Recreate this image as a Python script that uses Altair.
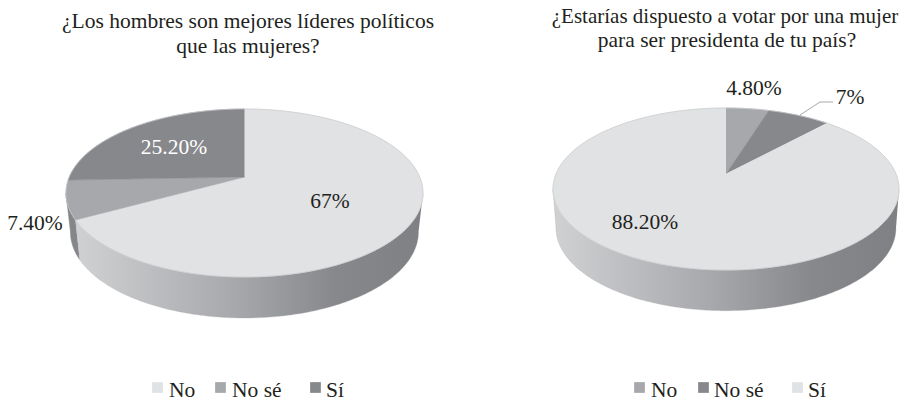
import math
import altair as alt
import pandas as pd

LIGHT, MID, DARK = "#e1e2e4", "#a7a8ab", "#87888c"
INK = "#231f20"
FONT = "Liberation Serif"

# Values
left_names = ["No", "No sé", "Sí"]
left_values = [67.0, 7.4, 25.2]
left_labels = ["67%", "7.40%", "25.20%"]
left_colors = [LIGHT, MID, DARK]
right_names = ["No", "No sé", "Sí"]
right_values = [4.8, 7.0, 88.2]
right_labels = ["4.80%", "7%", "88.20%"]
right_colors = [MID, DARK, LIGHT]
left_title = ["¿Los hombres son mejores líderes políticos", "que las mujeres?"]
right_title = ["¿Estarías dispuesto a votar por una mujer", "para ser presidenta de tu país?"]

# Layout, in picture pixels
W, H = 894, 393
X = alt.Scale(domain=[8, 8 + W], range=[0, W])
Y = alt.Scale(domain=[8, 8 + H], range=[0, H])


def to_phi(pct, b, d):
    """Pie angle to the parameter of the ellipse seen in perspective."""
    th = pct * 3.6
    if th >= 360:
        return 360.0
    k = math.sqrt((b - d) / (b + d))
    p = 2 * math.degrees(math.atan(k * math.tan(math.radians(th / 2))))
    return p % 360


def ell(cx, cy, a, b, phi):
    r = math.radians(phi)
    return cx + a * math.sin(r), cy - b * math.cos(r)


def arc(cx, cy, a, b, p0, p1):
    n = max(2, int(abs(p1 - p0)) + 1)
    return [ell(cx, cy, a, b, p0 + (p1 - p0) * i / n) for i in range(n + 1)]


def polygon(points, fill, stroke=None, width=0.6):
    df = pd.DataFrame(points, columns=["x", "y"])
    df["i"] = range(len(df))
    return (
        alt.Chart(df)
        .mark_line(fill=fill, stroke=stroke or fill, strokeWidth=width, clip=False)
        .encode(
            x=alt.X("x:Q", scale=X, axis=None),
            y=alt.Y("y:Q", scale=Y, axis=None),
            order=alt.Order("i:Q"),
        )
    )


def wall_gradient(stops):
    return alt.Gradient(
        gradient="linear", x1=0, x2=1, y1=0, y2=0,
        stops=[alt.GradientStop(offset=o, color=c) for o, c in stops],
    )


def pie(values, colors, cx, cy, a, b, d, a2, cy2, b2, wall_stops, sliver=None):
    layers = []
    cum = [0.0]
    for v in values:
        cum.append(cum[-1] + v)
    cum[-1] = 100.0
    phis = [to_phi(c, b, d) for c in cum]
    ax, ay = cx, cy - d
    # side wall
    end = 270.0
    if sliver is not None:
        seg_from, seg_color = sliver
        pf = phis[seg_from]
        layers.append(polygon(
            arc(cx, cy, a, b, pf, 270) + arc(cx, cy2, a2, b2, 270, pf), seg_color))
        end = pf
    layers.append(polygon(
        arc(cx, cy, a, b, 90, end) + arc(cx, cy2, a2, b2, end, 90),
        wall_gradient(wall_stops), stroke="#a9aaad", width=0.3))
    # top face
    for i, col in enumerate(colors):
        p0, p1 = phis[i], phis[i + 1]
        layers.append(polygon([(ax, ay)] + arc(cx, cy, a, b, p0, p1), col))
    layers.append(
        alt.Chart(pd.DataFrame(arc(cx, cy, a, b, 0, 360), columns=["x", "y"]).assign(i=lambda t: t.index))
        .mark_line(stroke="#c9cacc", strokeWidth=0.7)
        .encode(x=alt.X("x:Q", scale=X, axis=None), y=alt.Y("y:Q", scale=Y, axis=None), order=alt.Order("i:Q"))
    )
    return layers


def texts(rows, size, color=INK, align="center"):
    return (
        alt.Chart(pd.DataFrame(rows, columns=["x", "y", "t"]))
        .mark_text(font=FONT, fontSize=size, color=color, align=align, baseline="alphabetic")
        .encode(x=alt.X("x:Q", scale=X, axis=None), y=alt.Y("y:Q", scale=Y, axis=None), text="t:N")
    )


def legend(names, colors, square_x, text_x):
    rows = pd.DataFrame({"x": square_x, "y": [387.5] * 3, "c": colors})
    sq = (
        alt.Chart(rows)
        .mark_square(size=115, opacity=1, filled=True)
        .encode(x=alt.X("x:Q", scale=X, axis=None), y=alt.Y("y:Q", scale=Y, axis=None),
                color=alt.Color("c:N", scale=None))
    )
    return [sq, texts(list(zip(text_x, [397] * 3, names)), 21.5, align="left")]


stops = [(0, "#d0d1d3"), (0.45, "#a8a9ac"), (0.75, "#87888c"), (1, "#7f8084")]
layers = []
layers += pie(left_values, left_colors, 244.5, 193, 178.5, 84, 16, 174, 232, 86, stops, sliver=(1, "#85868a"))
layers += pie(right_values, right_colors, 726, 189, 173, 81, 15, 170, 228, 82.7, stops)

# leader of the 7% label
leader = pd.DataFrame({"x": [800, 820, 833], "y": [115, 102, 102], "i": [0, 1, 2]})
layers.append(
    alt.Chart(leader).mark_line(stroke="#a7a8ab", strokeWidth=1)
    .encode(x=alt.X("x:Q", scale=X, axis=None), y=alt.Y("y:Q", scale=Y, axis=None), order="i:Q")
)

layers.append(texts([
    (248, 28, left_title[0]), (248, 53, left_title[1]),
    (727, 47, right_title[1]),
], 21.5))
layers.append(texts([(725, 23, right_title[0])], 21))
layers.append(texts([
    (330, 208, left_labels[0]), (754, 95, right_labels[0]),
    (850, 104, right_labels[1]), (645, 229, right_labels[2]),
], 21.5))
layers.append(texts([(35, 230, left_labels[1])], 21.5))
layers.append(texts([(174, 154, left_labels[2])], 21.5, color="#ffffff"))
layers += legend(left_names, left_colors, [157.5, 220.5, 315.5], [169, 232, 326])
layers += legend(right_names, right_colors, [639.5, 703.5, 797.5], [651, 714, 808])

chart = (
    alt.layer(*layers)
    .properties(width=W, height=H, padding=0, autosize=alt.AutoSizeParams(type="none"))
    .configure_view(stroke=None)
)
chart.save("out.html", embed_options={"renderer": "svg", "actions": False})
